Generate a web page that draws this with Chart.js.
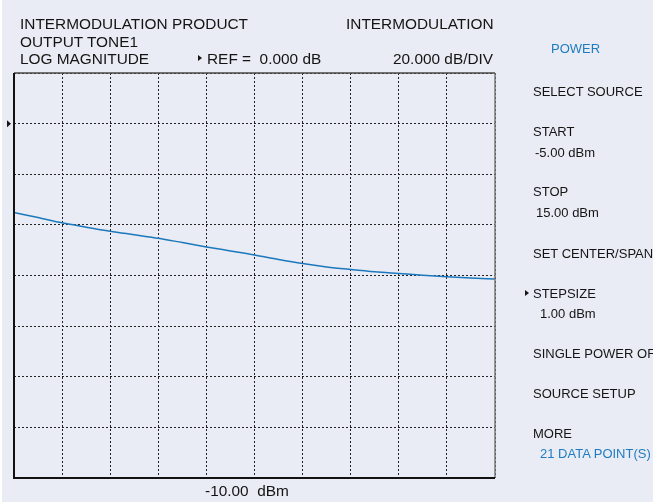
<!DOCTYPE html>
<html>
<head>
<meta charset="utf-8">
<script src="https://cdn.jsdelivr.net/npm/chart.js@4.4.1/dist/chart.umd.min.js"></script>
<style>
  html, body { margin: 0; padding: 0; background: #ffffff; }
  #screen { position: absolute; left: 2px; top: 0; width: 651px; height: 502px; background: #e9ecf4; overflow: hidden; }
  #plot { position: absolute; left: -2px; top: 0; width: 653px; height: 504px; }
  .t { position: absolute; font-family: "Liberation Sans", Arial, sans-serif; color: #141414; white-space: nowrap; }
  .h { font-size: 15.4px; line-height: 15px; }
  .m { font-size: 13px; line-height: 13px; }
  .blue { color: #1f7cc1; }
  .tri { position: absolute; width: 0; height: 0; border-top: 3px solid transparent; border-bottom: 3px solid transparent; border-left: 4px solid #161616; }
</style>
</head>
<body>
<div id="screen">
  <canvas id="plot" width="653" height="504"></canvas>

  <div class="t h" style="left:18px; top:16px;">INTERMODULATION PRODUCT</div>
  <div class="t h" style="left:18px; top:34px;">OUTPUT TONE1</div>
  <div class="t h" style="left:18px; top:51px;">LOG MAGNITUDE</div>
  <div class="t h" style="left:344px; top:16px;">INTERMODULATION</div>
  <div class="tri" style="left:196px; top:55px;"></div>
  <div class="t h" style="left:205px; top:51px;">REF =&nbsp; 0.000 dB</div>
  <div class="t h" style="left:391px; top:51px;">20.000 dB/DIV</div>
  <div class="t h" style="left:203px; top:483px;">-10.00&nbsp; dBm</div>

  <div class="t m blue" style="left:549px; top:42px;">POWER</div>
  <div class="t m" style="left:531px; top:85px;">SELECT SOURCE</div>
  <div class="t m" style="left:531px; top:125px;">START</div>
  <div class="t m" style="left:533px; top:146px;">-5.00 dBm</div>
  <div class="t m" style="left:531px; top:185px;">STOP</div>
  <div class="t m" style="left:534px; top:206px;">15.00 dBm</div>
  <div class="t m" style="left:531px; top:247px;">SET CENTER/SPAN</div>
  <div class="tri" style="left:523px; top:290px;"></div>
  <div class="t m" style="left:531px; top:287px;">STEPSIZE</div>
  <div class="t m" style="left:538px; top:307px;">1.00 dBm</div>
  <div class="t m" style="left:531px; top:347px;">SINGLE POWER OFF</div>
  <div class="t m" style="left:531px; top:387px;">SOURCE SETUP</div>
  <div class="t m" style="left:531px; top:427px;">MORE</div>
  <div class="t m blue" style="left:538px; top:447px;">21 DATA POINT(S)</div>
</div>

<script>
// Swept source power, dBm (21 points, 1 dBm step)
const powerDbm = [-5, -4, -3, -2, -1, 0, 1, 2, 3, 4, 5, 6, 7, 8, 9, 10, 11, 12, 13, 14, 15];
// Intermodulation product, output tone 1, dB
const imProductDb = [-35.1, -37.1, -39.2, -40.9, -42.5, -43.9, -45.3, -47.0, -48.7, -50.3, -51.9,
                     -53.7, -55.3, -56.6, -57.6, -58.5, -59.2, -59.9, -60.5, -61.0, -61.4];
// Display window
const refLevelDb = 0;
const dbPerDiv = 20;
const yTop = 20;
const yBottom = -140;

const frameAndRef = {
  id: 'frameAndRef',
  afterDraw(chart) {
    const { ctx, chartArea: a, scales } = chart;
    ctx.save();
    // instrument frame
    ctx.lineWidth = 1.5;
    ctx.strokeStyle = '#4a4a4a';
    ctx.beginPath(); ctx.moveTo(a.left, a.top); ctx.lineTo(a.right, a.top); ctx.stroke();
    ctx.strokeStyle = '#7a7a7a';
    ctx.beginPath(); ctx.moveTo(a.right, a.top); ctx.lineTo(a.right, a.bottom); ctx.stroke();
    ctx.lineWidth = 2;
    ctx.strokeStyle = '#111111';
    ctx.beginPath(); ctx.moveTo(a.left, a.top); ctx.lineTo(a.left, a.bottom); ctx.lineTo(a.right, a.bottom); ctx.stroke();
    // reference level marker
    const yRef = scales.y.getPixelForValue(refLevelDb);
    ctx.fillStyle = '#161616';
    ctx.beginPath();
    ctx.moveTo(a.left - 7, yRef - 3.5);
    ctx.lineTo(a.left - 3, yRef);
    ctx.lineTo(a.left - 7, yRef + 3.5);
    ctx.closePath();
    ctx.fill();
    ctx.restore();
  }
};

new Chart(document.getElementById('plot'), {
  type: 'line',
  data: {
    labels: powerDbm,
    datasets: [{
      data: powerDbm.map((p, i) => ({ x: p, y: imProductDb[i] })),
      borderColor: '#1c78bd',
      borderWidth: 1.5,
      pointRadius: 0,
      cubicInterpolationMode: 'monotone',
      fill: false
    }]
  },
  options: {
    responsive: false,
    animation: false,
    events: [],
    layout: { padding: { left: 14, top: 73, right: 158, bottom: 26 } },
    plugins: { legend: { display: false }, tooltip: { enabled: false } },
    scales: {
      x: {
        type: 'linear', min: -5, max: 15,
        ticks: { display: false, stepSize: 2 },
        border: { display: false, dash: [2, 2] },
        grid: { color: '#222222', lineWidth: 1, drawTicks: false }
      },
      y: {
        type: 'linear', min: yBottom, max: yTop,
        ticks: { display: false, stepSize: dbPerDiv },
        border: { display: false, dash: [2, 2] },
        grid: { color: '#222222', lineWidth: 1, drawTicks: false }
      }
    }
  },
  plugins: [frameAndRef]
});
</script>
</body>
</html>
